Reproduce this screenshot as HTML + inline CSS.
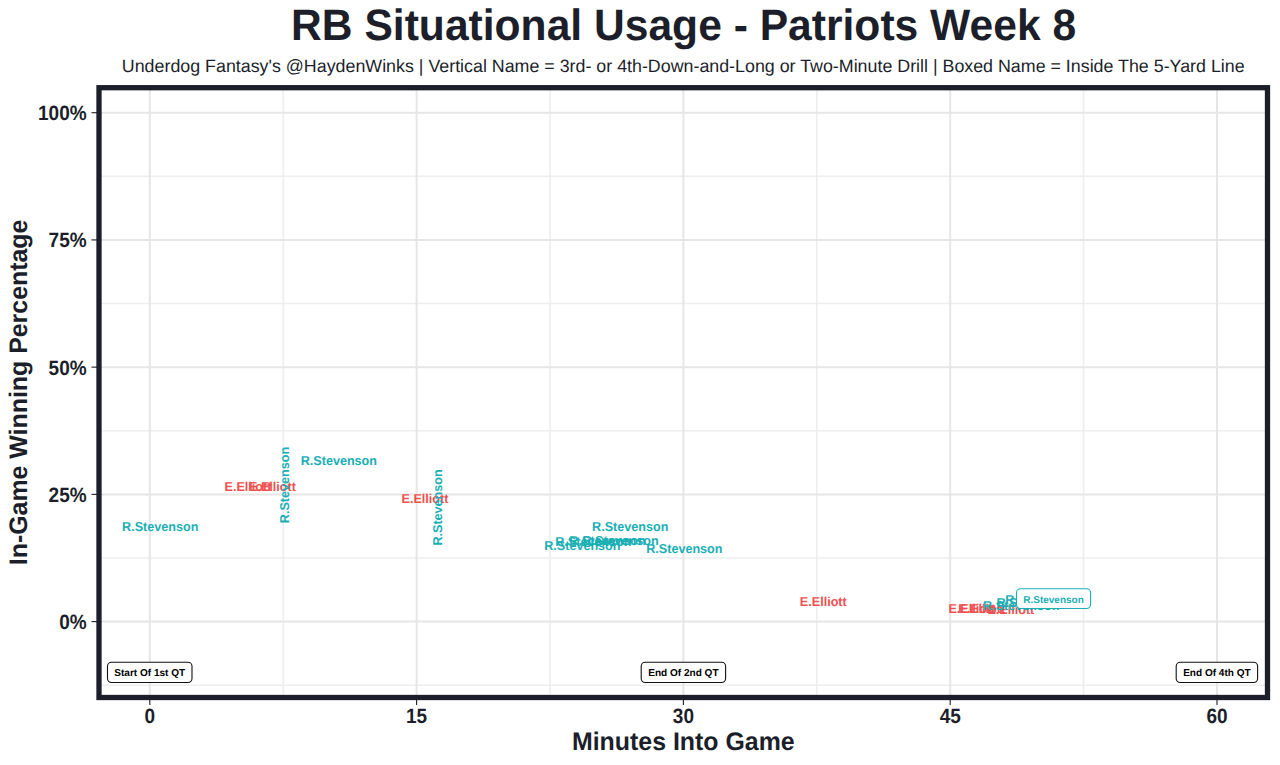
<!DOCTYPE html>
<html><head><meta charset="utf-8"><style>
html,body{margin:0;padding:0;background:#fff;width:1280px;height:765px;overflow:hidden;}
svg{display:block;}
text{font-family:"Liberation Sans",sans-serif;text-rendering:geometricPrecision;}
</style></head><body>
<svg width="1280" height="765" viewBox="0 0 1280 765">
<rect x="0" y="0" width="1280" height="765" fill="#ffffff"/>
<line x1="283.20" y1="87.7" x2="283.20" y2="697.5" stroke="#eeeeee" stroke-width="1.6"/>
<line x1="550.00" y1="87.7" x2="550.00" y2="697.5" stroke="#eeeeee" stroke-width="1.6"/>
<line x1="816.80" y1="87.7" x2="816.80" y2="697.5" stroke="#eeeeee" stroke-width="1.6"/>
<line x1="1083.60" y1="87.7" x2="1083.60" y2="697.5" stroke="#eeeeee" stroke-width="1.6"/>
<line x1="99.0" y1="176.31" x2="1267.5" y2="176.31" stroke="#eeeeee" stroke-width="1.6"/>
<line x1="99.0" y1="303.54" x2="1267.5" y2="303.54" stroke="#eeeeee" stroke-width="1.6"/>
<line x1="99.0" y1="430.76" x2="1267.5" y2="430.76" stroke="#eeeeee" stroke-width="1.6"/>
<line x1="99.0" y1="557.99" x2="1267.5" y2="557.99" stroke="#eeeeee" stroke-width="1.6"/>
<line x1="99.0" y1="685.21" x2="1267.5" y2="685.21" stroke="#eeeeee" stroke-width="1.6"/>
<line x1="149.80" y1="87.7" x2="149.80" y2="697.5" stroke="#e6e6e6" stroke-width="2"/>
<line x1="416.60" y1="87.7" x2="416.60" y2="697.5" stroke="#e6e6e6" stroke-width="2"/>
<line x1="683.40" y1="87.7" x2="683.40" y2="697.5" stroke="#e6e6e6" stroke-width="2"/>
<line x1="950.20" y1="87.7" x2="950.20" y2="697.5" stroke="#e6e6e6" stroke-width="2"/>
<line x1="1217.00" y1="87.7" x2="1217.00" y2="697.5" stroke="#e6e6e6" stroke-width="2"/>
<line x1="99.0" y1="112.70" x2="1267.5" y2="112.70" stroke="#e6e6e6" stroke-width="2"/>
<line x1="99.0" y1="239.93" x2="1267.5" y2="239.93" stroke="#e6e6e6" stroke-width="2"/>
<line x1="99.0" y1="367.15" x2="1267.5" y2="367.15" stroke="#e6e6e6" stroke-width="2"/>
<line x1="99.0" y1="494.38" x2="1267.5" y2="494.38" stroke="#e6e6e6" stroke-width="2"/>
<line x1="99.0" y1="621.60" x2="1267.5" y2="621.60" stroke="#e6e6e6" stroke-width="2"/>
<text transform="translate(122.10 530.75) scale(1.0 1.025)" font-family="Liberation Sans, sans-serif" font-size="12.6" font-weight="bold" fill="#1aafb5" text-anchor="start">R.Stevenson</text>
<text transform="translate(224.50 490.50) scale(1.0 1.025)" font-family="Liberation Sans, sans-serif" font-size="12.6" font-weight="bold" fill="#ef5050" text-anchor="start">E.Elliott</text>
<text transform="translate(249.00 490.50) scale(1.0 1.025)" font-family="Liberation Sans, sans-serif" font-size="12.6" font-weight="bold" fill="#ef5050" text-anchor="start">E.Elliott</text>
<text transform="translate(300.70 465.20) scale(1.0 1.025)" font-family="Liberation Sans, sans-serif" font-size="12.6" font-weight="bold" fill="#1aafb5" text-anchor="start">R.Stevenson</text>
<text transform="translate(401.50 503.30) scale(1.0 1.025)" font-family="Liberation Sans, sans-serif" font-size="12.6" font-weight="bold" fill="#ef5050" text-anchor="start">E.Elliott</text>
<text transform="translate(544.20 549.50) scale(1.0 1.025)" font-family="Liberation Sans, sans-serif" font-size="12.6" font-weight="bold" fill="#1aafb5" text-anchor="start">R.Stevenson</text>
<text transform="translate(555.20 545.70) scale(1.0 1.025)" font-family="Liberation Sans, sans-serif" font-size="12.6" font-weight="bold" fill="#1aafb5" text-anchor="start">R.Stevenson</text>
<text transform="translate(569.30 544.70) scale(1.0 1.025)" font-family="Liberation Sans, sans-serif" font-size="12.6" font-weight="bold" fill="#1aafb5" text-anchor="start">R.Stevenson</text>
<text transform="translate(582.40 544.50) scale(1.0 1.025)" font-family="Liberation Sans, sans-serif" font-size="12.6" font-weight="bold" fill="#1aafb5" text-anchor="start">R.Stevenson</text>
<text transform="translate(592.10 531.20) scale(1.0 1.025)" font-family="Liberation Sans, sans-serif" font-size="12.6" font-weight="bold" fill="#1aafb5" text-anchor="start">R.Stevenson</text>
<text transform="translate(646.20 553.40) scale(1.0 1.025)" font-family="Liberation Sans, sans-serif" font-size="12.6" font-weight="bold" fill="#1aafb5" text-anchor="start">R.Stevenson</text>
<text transform="translate(799.85 605.90) scale(1.0 1.025)" font-family="Liberation Sans, sans-serif" font-size="12.6" font-weight="bold" fill="#ef5050" text-anchor="start">E.Elliott</text>
<text transform="translate(948.40 612.50) scale(1.0 1.025)" font-family="Liberation Sans, sans-serif" font-size="12.6" font-weight="bold" fill="#ef5050" text-anchor="start">E.Elliott</text>
<text transform="translate(958.30 612.90) scale(1.0 1.025)" font-family="Liberation Sans, sans-serif" font-size="12.6" font-weight="bold" fill="#ef5050" text-anchor="start">E.Elliott</text>
<text transform="translate(987.40 613.50) scale(1.0 1.025)" font-family="Liberation Sans, sans-serif" font-size="12.6" font-weight="bold" fill="#ef5050" text-anchor="start">E.Elliott</text>
<text transform="translate(983.10 610.00) scale(1.0 1.025)" font-family="Liberation Sans, sans-serif" font-size="12.6" font-weight="bold" fill="#1aafb5" text-anchor="start">R.Stevenson</text>
<text transform="translate(996.50 606.80) scale(1.0 1.025)" font-family="Liberation Sans, sans-serif" font-size="12.6" font-weight="bold" fill="#1aafb5" text-anchor="start">R.Stevenson</text>
<text transform="translate(1005.30 603.80) scale(1.0 1.025)" font-family="Liberation Sans, sans-serif" font-size="12.6" font-weight="bold" fill="#1aafb5" text-anchor="start">R.Stevenson</text>
<text transform="translate(288.70 523.20) rotate(-90) scale(1.0 1.025)" font-family="Liberation Sans, sans-serif" font-size="12.6" font-weight="bold" fill="#1aafb5" text-anchor="start">R.Stevenson</text>
<text transform="translate(442.40 545.60) rotate(-90) scale(1.0 1.025)" font-family="Liberation Sans, sans-serif" font-size="12.6" font-weight="bold" fill="#1aafb5" text-anchor="start">R.Stevenson</text>
<rect x="1016.5" y="588.7" width="74.1" height="19.8" rx="4" ry="4" fill="#ffffff" stroke="#1aafb5" stroke-width="1.1"/>
<text transform="translate(1053.50 602.60)" font-family="Liberation Sans, sans-serif" font-size="10" font-weight="bold" fill="#1aafb5" text-anchor="middle">R.Stevenson</text>
<rect x="107.5" y="662.3" width="84.5" height="20.2" rx="4" ry="4" fill="#ffffff" stroke="#111111" stroke-width="1.1"/>
<text transform="translate(149.75 676.10)" font-family="Liberation Sans, sans-serif" font-size="10.05" font-weight="bold" fill="#000000" text-anchor="middle">Start Of 1st QT</text>
<rect x="641.2" y="662.3" width="84.4" height="20.2" rx="4" ry="4" fill="#ffffff" stroke="#111111" stroke-width="1.1"/>
<text transform="translate(683.40 676.10)" font-family="Liberation Sans, sans-serif" font-size="10.05" font-weight="bold" fill="#000000" text-anchor="middle">End Of 2nd QT</text>
<rect x="1176.2" y="662.3" width="81.4" height="20.2" rx="4" ry="4" fill="#ffffff" stroke="#111111" stroke-width="1.1"/>
<text transform="translate(1216.90 676.10)" font-family="Liberation Sans, sans-serif" font-size="10.05" font-weight="bold" fill="#000000" text-anchor="middle">End Of 4th QT</text>
<rect x="99.0" y="87.7" width="1168.5" height="609.8" fill="none" stroke="#1c1f2a" stroke-width="5.3"/>
<line x1="91.5" y1="112.70" x2="97" y2="112.70" stroke="#1c1f2a" stroke-width="1.1"/>
<text transform="translate(86.60 120.15) scale(0.95 1.035)" font-family="Liberation Sans, sans-serif" font-size="20" font-weight="bold" fill="#1c1f2a" text-anchor="end">100%</text>
<line x1="91.5" y1="239.93" x2="97" y2="239.93" stroke="#1c1f2a" stroke-width="1.1"/>
<text transform="translate(86.60 247.38) scale(0.95 1.035)" font-family="Liberation Sans, sans-serif" font-size="20" font-weight="bold" fill="#1c1f2a" text-anchor="end">75%</text>
<line x1="91.5" y1="367.15" x2="97" y2="367.15" stroke="#1c1f2a" stroke-width="1.1"/>
<text transform="translate(86.60 374.60) scale(0.95 1.035)" font-family="Liberation Sans, sans-serif" font-size="20" font-weight="bold" fill="#1c1f2a" text-anchor="end">50%</text>
<line x1="91.5" y1="494.38" x2="97" y2="494.38" stroke="#1c1f2a" stroke-width="1.1"/>
<text transform="translate(86.60 501.82) scale(0.95 1.035)" font-family="Liberation Sans, sans-serif" font-size="20" font-weight="bold" fill="#1c1f2a" text-anchor="end">25%</text>
<line x1="91.5" y1="621.60" x2="97" y2="621.60" stroke="#1c1f2a" stroke-width="1.1"/>
<text transform="translate(86.60 629.05) scale(0.95 1.035)" font-family="Liberation Sans, sans-serif" font-size="20" font-weight="bold" fill="#1c1f2a" text-anchor="end">0%</text>
<line x1="149.80" y1="699.5" x2="149.80" y2="705" stroke="#1c1f2a" stroke-width="1.1"/>
<text transform="translate(149.80 723.40) scale(0.95 1.035)" font-family="Liberation Sans, sans-serif" font-size="20" font-weight="bold" fill="#1c1f2a" text-anchor="middle">0</text>
<line x1="416.60" y1="699.5" x2="416.60" y2="705" stroke="#1c1f2a" stroke-width="1.1"/>
<text transform="translate(416.60 723.40) scale(0.95 1.035)" font-family="Liberation Sans, sans-serif" font-size="20" font-weight="bold" fill="#1c1f2a" text-anchor="middle">15</text>
<line x1="683.40" y1="699.5" x2="683.40" y2="705" stroke="#1c1f2a" stroke-width="1.1"/>
<text transform="translate(683.40 723.40) scale(0.95 1.035)" font-family="Liberation Sans, sans-serif" font-size="20" font-weight="bold" fill="#1c1f2a" text-anchor="middle">30</text>
<line x1="950.20" y1="699.5" x2="950.20" y2="705" stroke="#1c1f2a" stroke-width="1.1"/>
<text transform="translate(950.20 723.40) scale(0.95 1.035)" font-family="Liberation Sans, sans-serif" font-size="20" font-weight="bold" fill="#1c1f2a" text-anchor="middle">45</text>
<line x1="1217.00" y1="699.5" x2="1217.00" y2="705" stroke="#1c1f2a" stroke-width="1.1"/>
<text transform="translate(1217.00 723.40) scale(0.95 1.035)" font-family="Liberation Sans, sans-serif" font-size="20" font-weight="bold" fill="#1c1f2a" text-anchor="middle">60</text>
<text transform="translate(683.60 40.00) scale(1.0 1.03)" font-family="Liberation Sans, sans-serif" font-size="42.6" font-weight="bold" fill="#1c1f2a" text-anchor="middle">RB Situational Usage - Patriots Week 8</text>
<text transform="translate(683.20 71.80)" font-family="Liberation Sans, sans-serif" font-size="17.83"  fill="#1c1f2a" text-anchor="middle">Underdog Fantasy's @HaydenWinks | Vertical Name = 3rd- or 4th-Down-and-Long or Two-Minute Drill | Boxed Name = Inside The 5-Yard Line</text>
<text transform="translate(683.30 750.20) scale(1.0 1.02)" font-family="Liberation Sans, sans-serif" font-size="24.9" font-weight="bold" fill="#1c1f2a" text-anchor="middle">Minutes Into Game</text>
<text transform="translate(27.10 392.40) rotate(-90) scale(1.0 1.02)" font-family="Liberation Sans, sans-serif" font-size="24.9" font-weight="bold" fill="#1c1f2a" text-anchor="middle">In-Game Winning Percentage</text>
</svg>
</body></html>
